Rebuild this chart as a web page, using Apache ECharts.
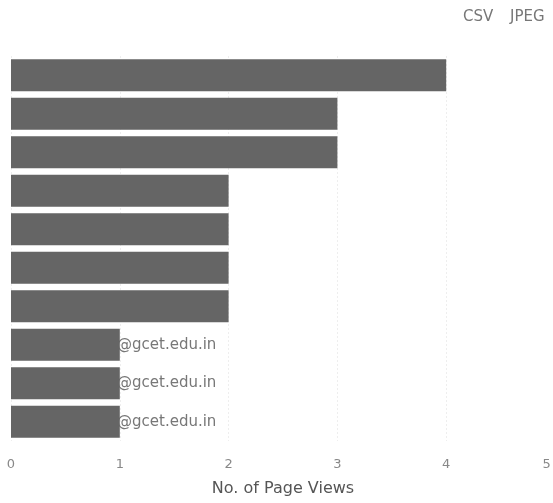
<!DOCTYPE html>
<html>
<head>
<meta charset="utf-8">
<script src="https://cdn.jsdelivr.net/npm/echarts@6/dist/echarts.min.js"></script>
<style>html,body{margin:0;padding:0;background:#fff}#c{width:553px;height:503px}</style>
</head>
<body>
<div id="c"></div>
<script>
const categories = ['user01@gcet.edu.in','user02@gcet.edu.in','user03@gcet.edu.in','user04@gcet.edu.in','user05@gcet.edu.in','user06@gcet.edu.in','user07@gcet.edu.in','user08@gcet.edu.in','user09@gcet.edu.in','user10@gcet.edu.in'];
const pageViews = [4, 3, 3, 2, 2, 2, 2, 1, 1, 1];
const xTicks = [0, 1, 2, 3, 4, 5];
const axisTitle = 'No. of Page Views';
const exportLinks = ['CSV', 'JPEG'];

const chart = echarts.init(document.getElementById('c'), null, {renderer: 'canvas'});
const font = 'DejaVu Sans';
chart.setOption({
  animation: false,
  backgroundColor: '#fff',
  grid: {left: 11, width: 544, top: 56, bottom: 62, containLabel: false, outerBoundsMode: 'none'},
  graphic: [
    {type: 'text', left: 463, top: 10, style: {text: exportLinks[0], font: '15px "DejaVu Sans"', fill: '#777'}},
    {type: 'text', left: 510, top: 10, style: {text: exportLinks[1], font: '15px "DejaVu Sans"', fill: '#777'}}
  ],
  xAxis: {
    type: 'value', min: xTicks[0], max: xTicks[xTicks.length - 1], interval: 1,
    name: axisTitle, nameLocation: 'middle', nameGap: 40,
    nameTextStyle: {fontFamily: font, fontSize: 16, color: '#555'},
    axisLine: {show: false}, axisTick: {show: false},
    axisLabel: {fontFamily: font, fontSize: 13, color: '#888', margin: 17, alignMaxLabel: 'right',
      formatter: v => (v === 5 ? '5 ' : String(v))},
    splitLine: {show: true, lineStyle: {color: '#eeeeee', width: 1, type: [2, 2]}}
  },
  yAxis: {
    type: 'category', data: categories, inverse: true,
    axisLine: {show: false}, axisTick: {show: false}, splitLine: {show: false},
    axisLabel: {
      inside: true, margin: 106, align: 'left',
      fontFamily: font, fontSize: 15, color: '#777',
      formatter: v => v.slice(v.indexOf('@'))
    }
  },
  series: [{
    type: 'bar', data: pageViews, barCategoryGap: '17%',
    itemStyle: {color: '#656565'}, z: 5
  }]
});
</script>
</body>
</html>
